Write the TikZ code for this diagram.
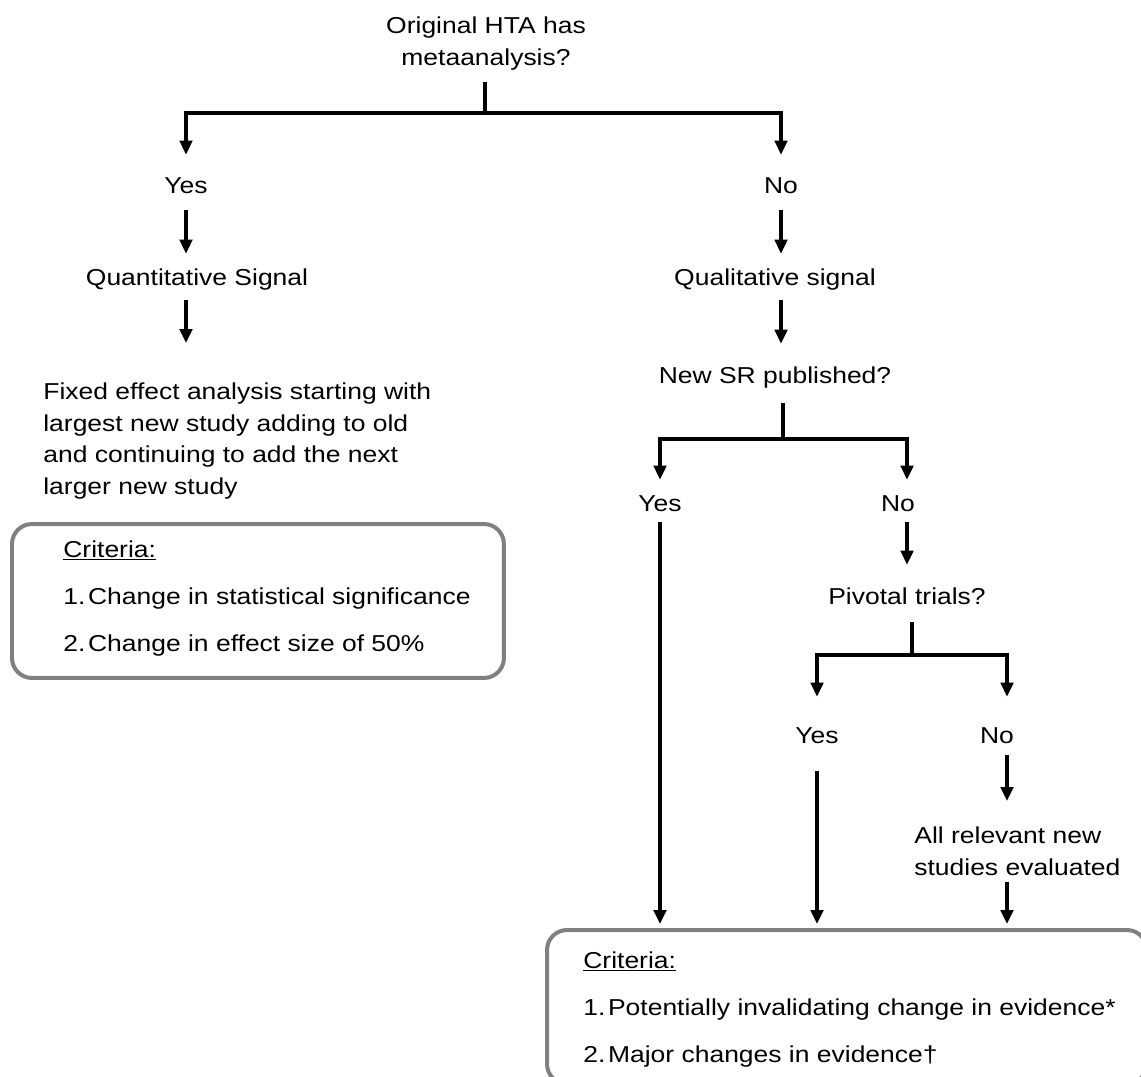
\documentclass[tikz,border=0pt]{standalone}
\usepackage{fontspec}
\setmainfont{Liberation Sans}[FakeStretch=1.15]
\usetikzlibrary{arrows.meta}
\definecolor{boxgray}{RGB}{128,128,128}
\begin{document}
\begin{tikzpicture}[x=0.02cm,y=-0.02cm,
  lbl/.style={inner sep=0pt,text height=0.34cm,text depth=0.1cm,font=\fontsize{13.1pt}{18.2pt}\selectfont},
  blk/.style={inner sep=0pt,font=\fontsize{13.1pt}{18.2pt}\selectfont},
  crit/.style={inner sep=0pt,align=left,font=\fontsize{13.1pt}{26.8pt}\selectfont},
  cbox/.style={draw=boxgray,line width=0.08cm,rounded corners=0.4cm,inner sep=0pt},
  wire/.style={line width=0.065cm},
  arr/.style={wire,-{Triangle[width=0.25cm,length=0.28cm]}}]
\useasboundingbox (0,0) rectangle (1141,1076);
\clip (0,0) rectangle (1141,1076);
% top question
\node[blk,align=center,anchor=north] (orig) at (486,16) {Original HTA has\\metaanalysis?};
\coordinate (sp1) at (485,113);
\node[lbl,anchor=base] (yes1) at (186,193) {Yes};
\node[lbl,anchor=base] (no1) at (781,193) {No};
\draw[wire,shorten <=0.24cm] (orig.south -| sp1) -- (sp1);
\draw[arr,shorten >=0.42cm] (sp1) -| (yes1.north);
\draw[arr,shorten >=0.42cm] (sp1) -| (no1.north);
% left branch
\node[lbl,anchor=base] (quant) at (197,285) {Quantitative Signal};
\node[blk,align=left,anchor=north west] (fixed) at (43,382) {Fixed effect analysis starting with\\largest new study adding to old\\and continuing to add the next\\larger new study};
\draw[arr,shorten <=0.24cm,shorten >=0.28cm] (yes1.south) -- (yes1.south |- quant.north);
\draw[arr,shorten <=0.2cm,shorten >=0.78cm] (yes1.south |- quant.south) -- (yes1.south |- fixed.north);
\node[cbox,minimum width=9.84cm,minimum height=3.08cm,anchor=north west] (box1) at (10,522) {};
\node[crit,anchor=north west] (crit1) at (63,540) {\underline{Criteria:}\\1.\hspace{1.5pt}Change in statistical significance\\2.\hspace{1.5pt}Change in effect size of 50\%};
% right branch
\node[lbl,anchor=base] (qual) at (775,285) {Qualitative signal};
\node[lbl,anchor=base] (newsr) at (775,383) {New SR published?};
\draw[arr,shorten <=0.24cm,shorten >=0.28cm] (no1.south) -- (no1.south |- qual.north);
\draw[arr,shorten <=0.2cm,shorten >=0.44cm] (no1.south |- qual.south) -- (no1.south |- newsr.north);
\coordinate (sp2) at (783,439);
\node[lbl,anchor=base] (yes2) at (660,511) {Yes};
\node[lbl,anchor=base] (no2) at (898,511) {No};
\draw[wire,shorten <=0.3cm] (newsr.south -| sp2) -- (sp2);
\draw[arr,shorten >=0.28cm] (sp2) -| (yes2.north);
\draw[arr,shorten >=0.28cm] (sp2) -| ([xshift=0.18cm]no2.north);
% pivotal trials
\node[lbl,anchor=base] (pivot) at (907,604) {Pivotal trials?};
\draw[arr,shorten <=0.12cm,shorten >=0.44cm] ([xshift=0.18cm]no2.south) -- ([xshift=0.18cm]no2.south |- pivot.north);
\coordinate (sp3) at (912,655);
\node[lbl,anchor=base] (yes3) at (817,743) {Yes};
\node[lbl,anchor=base] (no3) at (997,743) {No};
\draw[wire,shorten <=0.26cm] (pivot.south -| sp3) -- (sp3);
\draw[arr,shorten >=0.58cm] (sp3) -| (yes3.north);
\draw[arr,shorten >=0.58cm] (sp3) -| ([xshift=0.2cm]no3.north);
\node[blk,align=left,anchor=north west] (allrel) at (914,826) {All relevant new\\studies evaluated};
\draw[arr,shorten <=0.14cm,shorten >=0.5cm] ([xshift=0.2cm]no3.south) -- ([xshift=0.2cm]no3.south |- allrel.north);
% bottom criteria
\node[cbox,minimum width=12cm,minimum height=3.08cm,anchor=north west] (box2) at (545,928) {};
\node[crit,anchor=north west] (crit2) at (583,951) {\underline{Criteria:}\\1.\hspace{1.5pt}Potentially invalidating change in evidence*\\2.\hspace{1.5pt}Major changes in evidence\textdagger};
\draw[arr,shorten <=0.12cm,shorten >=0.08cm] (yes2.south) -- (yes2.south |- box2.north);
\draw[arr,shorten <=0.46cm,shorten >=0.08cm] (yes3.south) -- (yes3.south |- box2.north);
\draw[arr,shorten <=0.12cm,shorten >=0.08cm] ([xshift=0.2cm]no3.south |- allrel.south) -- ([xshift=0.2cm]no3.south |- box2.north);
\end{tikzpicture}
\end{document}
